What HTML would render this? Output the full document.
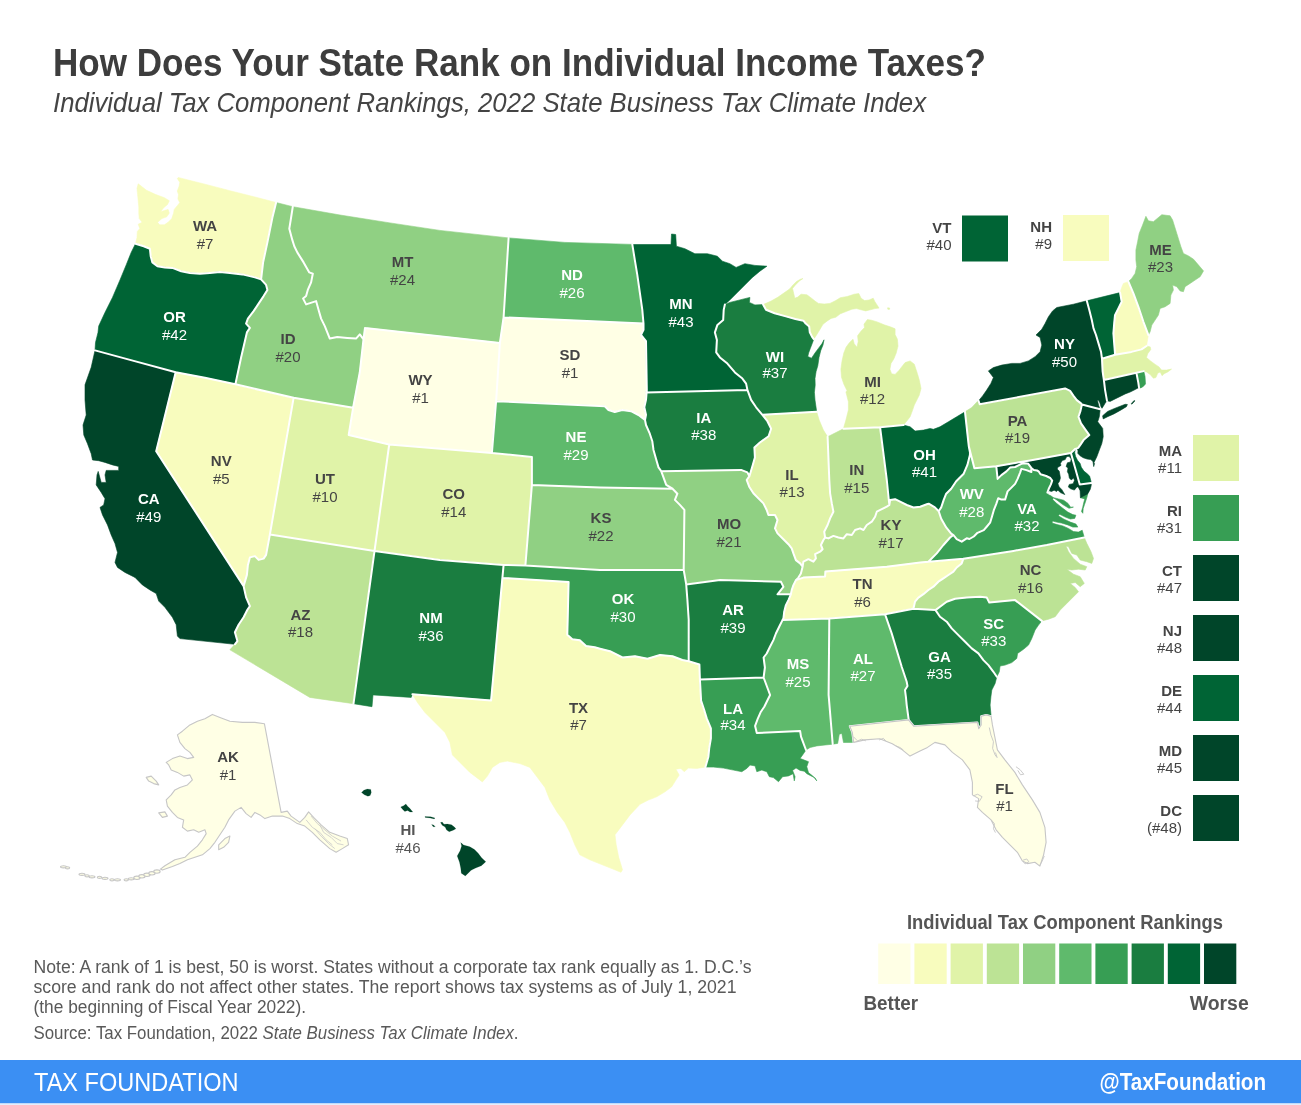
<!DOCTYPE html><html><head><meta charset="utf-8"><title>How Does Your State Rank on Individual Income Taxes?</title>
<style>html,body{margin:0;padding:0;background:#fff}body{width:1301px;height:1105px;overflow:hidden}svg{display:block}text{font-family:"Liberation Sans",sans-serif}.b{font-weight:700}.st{stroke:#fff;stroke-width:1.6;stroke-linejoin:round}.gs{stroke:#c6c6c6;stroke-width:1.1;stroke-linejoin:round}.l{font-size:15px;text-anchor:middle}.r{font-size:15px;text-anchor:end;fill:#444}</style></head><body>
<svg width="1301" height="1105" viewBox="0 0 1301 1105">
<rect width="1301" height="1105" fill="#fff"/>
<text x="53" y="75.5" class="b" font-size="38" fill="#3d3d3d" textLength="933" lengthAdjust="spacingAndGlyphs">How Does Your State Rank on Individual Income Taxes?</text>
<text x="53" y="111.5" font-size="28" font-style="italic" fill="#444" textLength="873" lengthAdjust="spacingAndGlyphs">Individual Tax Component Rankings, 2022 State Business Tax Climate Index</text>
<g id="map">
<path fill="#F8FCBE" stroke="#F8FCBE" stroke-width="0.6" stroke-linejoin="round" d="M135.5,243.7 137,237.4 137.3,231.5 139.8,228.5 138.2,224.2 142.2,222.3 139.2,218.6 138.8,213.1 138.8,206.9 138.2,200.8 137.6,194.6 137,188.5 138.2,183.8 146.5,190.3 155.8,194.6 164.4,197.7 169.3,200.8 167.5,204.5 163.2,208.2 160.7,211.8 164.4,210.6 168.1,209.4 169.3,213.1 166.8,216.8 161.9,218.6 157.6,222.3 159.5,224.8 164.4,224.8 168.1,222.3 171.8,218.6 173.6,213.1 174.2,209.4 177.3,205.7 179.8,202.6 177.9,198.9 178.5,194.6 177.3,190.9 179.2,186 179.8,182.3 177.3,178.6 178.2,177.5 204.9,184.2 229.9,190.7 254.9,197 276.1,202.5 272.4,217.5 267.4,242.4 263.1,262.4 261.1,279.4 254.9,277.4 242.4,274.4 229.9,272.9 219.9,271.9 209.9,272.9 199.9,273.7 189.9,272.9 181.2,271.2 172.4,267.9 164.9,267.4 157.4,266.2 152.4,262.4 150.7,256.2 149.9,248.7 143.7,246.2Z"/>
<path fill="#006435" stroke="#006435" stroke-width="0.6" stroke-linejoin="round" d="M95,350.4 95.5,342.4 98,332.4 98.7,326.1 105,312.4 112.5,297.4 120,279.9 126.2,264.9 131.2,252.4 135.5,243.7 143.7,246.2 149.9,248.7 150.7,256.2 152.4,262.4 157.4,266.2 164.9,267.4 172.4,267.9 181.2,271.2 189.9,272.9 199.9,273.7 209.9,272.9 219.9,271.9 229.9,272.9 242.4,274.4 254.9,277.4 261.1,279.4 266.1,284.9 267.4,289.9 263.6,296.1 258.6,303.6 253.6,311.1 247.9,318.6 246.1,323.6 249.9,327.9 246.9,332.4 241.1,357.4 235.4,384.3 204.9,377.8 175.7,372.3 130,359.9Z"/>
<path fill="#004529" stroke="#004529" stroke-width="0.6" stroke-linejoin="round" d="M95,350.4 130,359.9 175.7,372.3 156.2,451.2 243.6,586.1 246.1,597.4 249.9,606.1 247.4,609.8 243.6,617.3 238.6,624.8 234.9,632.3 237.4,641.1 234.9,644.3 179.9,638.6 177.4,636.1 176.2,624.8 172.4,617.3 164.9,607.3 158.7,601.1 156.2,593.6 149.9,589.9 142.4,584.9 135,577.4 125,572.4 117.5,567.4 115,562.4 117.5,552.4 115,543.6 111.2,534.9 107.5,524.9 102.5,514.9 100,507.4 103.7,504.9 105,498.7 101.2,492.4 96.2,484.9 97,474.9 98.2,471.4 101.2,482.4 106.2,482.4 105,474.9 106.2,470.4 118.7,470.4 118.7,466.4 112.5,464.9 105,462.4 98.7,460.7 92.5,460 91.2,453.7 87.5,443.7 83.8,435 83,425 86.2,415 85,400 85,384.8 91.2,367.3Z"/>
<path fill="#F8FCBE" stroke="#F8FCBE" stroke-width="0.6" stroke-linejoin="round" d="M175.7,372.3 204.9,377.8 235.4,384.3 293.6,397.8 269.9,534.4 266.1,554.9 263.6,558.6 258.6,559.9 254.9,556.1 249.9,557.4 247.9,564.9 246.9,574.9 243.6,586.1 156.2,451.2Z"/>
<path fill="#90D083" stroke="#90D083" stroke-width="0.6" stroke-linejoin="round" d="M276.1,202.5 292.8,206.7 291.1,217.5 289.3,228.7 292.3,239.9 294.3,246.2 297.3,252.4 303.6,262.4 309.3,272.4 312.8,273.7 311.1,282.4 307.8,289.9 306.1,296.1 303.1,298.6 306.1,304.4 312.3,302.4 316.1,301.1 318.6,309.9 321.1,318.6 324.8,326.1 327.3,332.4 329.8,338.6 337.3,336.9 347.3,337.9 356,338.6 359.8,334.4 363.5,339.4 359.8,372.3 353.1,407.8 293.6,397.8 235.4,384.3 241.1,357.4 246.9,332.4 249.9,327.9 246.1,323.6 247.9,318.6 253.6,311.1 258.6,303.6 263.6,296.1 267.4,289.9 266.1,284.9 261.1,279.4 263.1,262.4 267.4,242.4 272.4,217.5Z"/>
<path fill="#90D083" stroke="#90D083" stroke-width="0.6" stroke-linejoin="round" d="M292.8,206.7 340,215 390,222.9 439.9,230.4 508.6,237.9 503.6,317.4 499.9,342.9 365,327.9 363.5,339.4 359.8,334.4 356,338.6 347.3,337.9 337.3,336.9 329.8,338.6 327.3,332.4 324.8,326.1 321.1,318.6 318.6,309.9 316.1,301.1 312.3,302.4 306.1,304.4 303.1,298.6 306.1,296.1 307.8,289.9 311.1,282.4 312.8,273.7 309.3,272.4 303.6,262.4 297.3,252.4 294.3,246.2 292.3,239.9 289.3,228.7 291.1,217.5Z"/>
<path fill="#FFFFE5" stroke="#FFFFE5" stroke-width="0.6" stroke-linejoin="round" d="M365,327.9 499.9,342.9 496.1,401.2 491.9,453 389.2,444.5 348.7,435 353.1,407.8 359.8,372.3 363.5,339.4Z"/>
<path fill="#E0F3A8" stroke="#E0F3A8" stroke-width="0.6" stroke-linejoin="round" d="M293.6,397.8 353.1,407.8 348.7,435 389.2,444.5 374.5,551.1 269.9,534.4Z"/>
<path fill="#BCE395" stroke="#BCE395" stroke-width="0.6" stroke-linejoin="round" d="M269.9,534.4 374.5,551.1 353.5,703.7 309.8,697.4 229.9,649.8 234.9,644.3 237.4,641.1 234.9,632.3 238.6,624.8 243.6,617.3 247.4,609.8 249.9,606.1 246.1,597.4 243.6,586.1 246.9,574.9 247.9,564.9 249.9,557.4 254.9,556.1 258.6,559.9 263.6,558.6 266.1,554.9Z"/>
<path fill="#E0F3A8" stroke="#E0F3A8" stroke-width="0.6" stroke-linejoin="round" d="M389.2,444.5 491.9,453 531.9,457 531.9,484.9 525.4,565.4 503.6,564.9 439.9,559.9 374.5,551.1Z"/>
<path fill="#1A7D40" stroke="#1A7D40" stroke-width="0.6" stroke-linejoin="round" d="M374.5,551.1 439.9,559.9 503.6,564.9 502.4,577.9 491.1,700.4 412.4,694.2 411.2,697.4 373,694.9 372,706.7 353.5,703.7Z"/>
<path fill="#5FBA6C" stroke="#5FBA6C" stroke-width="0.6" stroke-linejoin="round" d="M508.6,237.9 564.8,242.4 632.3,244.4 634.8,259.9 637.3,274.9 639.8,292.4 642.3,309.9 643.5,323.6 503.6,317.4Z"/>
<path fill="#FFFFE5" stroke="#FFFFE5" stroke-width="0.6" stroke-linejoin="round" d="M503.6,317.4 643.5,323.6 643.5,329.9 641,334.9 646,341.1 646.8,389.8 646,399.8 644.3,407.3 646,414.8 645,420 638.5,415 631,411.2 622.3,410 614.8,412 608.5,410 604.8,406.2 496.1,401.2 499.9,342.9Z"/>
<path fill="#5FBA6C" stroke="#5FBA6C" stroke-width="0.6" stroke-linejoin="round" d="M496.1,401.2 604.8,406.2 608.5,410 614.8,412 622.3,410 631,411.2 638.5,415 645,420 646,425 649.8,433.7 652.3,441.2 653.5,450 656,458.7 658.5,467.4 661.2,471.2 666.2,484.9 672.5,488.7 600,487.4 531.9,484.9 531.9,457 491.9,453Z"/>
<path fill="#90D083" stroke="#90D083" stroke-width="0.6" stroke-linejoin="round" d="M531.9,484.9 600,487.4 672.5,488.7 677.4,493.7 674.9,499.9 679.9,504.9 684.4,509.9 683.7,569.9 600,569.9 525.4,565.4Z"/>
<path fill="#379E54" stroke="#379E54" stroke-width="0.6" stroke-linejoin="round" d="M503.6,564.9 525.4,565.4 600,569.9 683.7,569.9 686.2,584.4 687.4,599.9 688.7,619.8 688.7,661.2 682.4,660 672.5,656.2 660,655 647.5,658.7 635,656.2 622.5,657.5 610,651.2 600,648.7 594.8,647.3 586.1,646.1 579.8,640.3 572.3,639.3 567.3,634.8 568.6,581.9 502.4,577.9Z"/>
<path fill="#F8FCBE" stroke="#F8FCBE" stroke-width="0.6" stroke-linejoin="round" d="M502.4,577.9 568.6,581.9 567.3,634.8 572.3,639.3 579.8,640.3 586.1,646.1 594.8,647.3 600,648.7 610,651.2 622.5,657.5 635,656.2 647.5,658.7 660,655 672.5,656.2 682.4,660 688.7,661.2 699.4,664.5 699.9,679.5 701.2,702.4 700.9,700 704.2,710 706.7,718.4 710.9,728.4 710.9,738.4 709.2,748.4 708.4,756.7 705.4,767.1 696.7,768.4 688.4,768.1 684.2,771.7 680.9,768.4 675.9,769.2 679.2,775.1 675.9,780.1 671.7,786.8 665,791.8 656.7,796.8 648.3,800.1 640,804.3 630,814.9 622.5,824.9 615,834.8 616.2,844.8 618.7,857.3 622.5,869.8 621,872.3 614.8,869.8 602.3,864.8 589.8,859.8 579.8,854.8 574.8,844.8 569.8,832.3 564.8,822.4 557.3,812.4 549.8,799.9 544.9,787.4 537.4,777.4 529.9,767.4 519.9,763.6 507.4,761.1 499.9,762.4 492.4,767.4 487.4,776.1 482.4,781.9 469.9,772.4 459.9,762.4 452.4,754.9 449.9,742.4 444.9,732.4 434.9,722.4 424.9,712.4 417.4,702.4 412.4,694.2 491.1,700.4Z"/>
<path fill="#006435" stroke="#006435" stroke-width="0.6" stroke-linejoin="round" d="M633.2,244.5 671,244.5 671.5,234 675.7,234.5 676.4,246.2 684.9,248.7 694.9,253.7 707.4,253.7 717.4,256.2 722.4,261.2 729.9,263.7 736.1,267.4 744.9,263.7 754.9,265.4 766.9,266.2 759.9,271.2 752.4,277.4 744.9,284.9 737.4,292.4 729.9,299.9 724.9,304.4 723.7,309.9 723.2,319.9 717.4,324.9 714.9,332.4 716.9,339.9 716.2,352.4 719.9,357.4 727.4,363.6 734.9,372.4 742.4,378.6 746.1,383.6 747.4,389.9 646.2,392.4 646.8,389.8 646,341.1 641,334.9 643.5,329.9 643.5,323.6 642.3,309.9 639.8,292.4 637.3,274.9 634.8,259.9 632.3,244.4Z"/>
<path fill="#1A7D40" stroke="#1A7D40" stroke-width="0.6" stroke-linejoin="round" d="M646.2,392.4 747.4,389.9 751.1,399.9 756.1,407.3 762.4,414.8 767.4,421.2 771.1,428.7 768.6,436.2 759.9,442.5 754.4,447.5 754.9,457.5 752.4,466.2 749.4,476.2 747.4,472.4 741.1,469.9 661.2,471.2 658.5,467.4 656,458.7 653.5,450 652.3,441.2 649.8,433.7 646,425 645,420 646,414.8 644.3,407.3 646,399.8 646.8,389.8Z"/>
<path fill="#90D083" stroke="#90D083" stroke-width="0.6" stroke-linejoin="round" d="M661.2,471.2 741.1,469.9 747.4,472.4 749.4,476.2 746.7,480 749.2,486.7 753.4,493.3 758.4,498.4 763.4,503.4 766.7,510 768.4,515 775,515 777.5,520 775,528.4 777.5,533.4 783.4,539.2 788.4,544.2 791.7,548.4 793.4,553.4 795.9,560.1 800.1,563.4 802.6,566.7 800.9,573.4 798.4,577.6 795.9,580.1 793.4,585.1 791.7,590.1 790.9,594.3 777.5,594.3 783.4,586.8 780.9,581.8 720,580.1 686.2,584.4 683.7,569.9 684.4,509.9 679.9,504.9 674.9,499.9 677.4,493.7 672.5,488.7 666.2,484.9Z"/>
<path fill="#1A7D40" stroke="#1A7D40" stroke-width="0.6" stroke-linejoin="round" d="M686.2,584.4 720,580.1 780.9,581.8 783.4,586.8 777.5,594.3 790.9,594.3 788.4,600.1 785.9,605.1 784.2,611.8 783.4,618.5 782.5,620.1 779.2,626.8 775.9,633.5 773.4,640.1 770,646.8 766.7,653.5 763.6,657.5 764.9,667.5 763.6,677.5 699.9,679.5 699.4,664.5 688.7,661.2 688.7,619.8 687.4,599.9Z"/>
<path fill="#379E54" stroke="#379E54" stroke-width="0.6" stroke-linejoin="round" d="M699.9,679.5 763.6,677.5 770.1,695 767.6,700 764.3,706.7 760.9,711.7 757.6,719.2 755.1,725.9 756.8,733 800.1,730.9 801,736.7 803.5,743.4 806,750 802.6,755 800.1,758.4 804.3,760.1 808.5,761.7 806.8,766.7 808.5,772.6 813.5,776.7 816.8,780.9 815.1,777.9 810.1,775.4 806.8,773.7 804.3,771.2 800.1,770.4 796,767.9 792.6,770.4 795.1,776.7 794.3,780.9 793.1,773.7 788.5,775.9 782.6,776.7 778.5,781.7 773.4,777.6 769.3,776.7 766.8,771.7 761.8,770.1 756.8,771.7 755.1,765.9 750.1,765.1 746.8,768.4 741.8,771.7 733.4,770.1 723.4,768.1 713.4,767.1 705.4,767.1 708.4,756.7 709.2,748.4 710.9,738.4 710.9,728.4 706.7,718.4 704.2,710 700.9,700 701.2,702.4Z"/>
<path fill="#1A7D40" stroke="#1A7D40" stroke-width="0.6" stroke-linejoin="round" d="M724.9,304.4 729.9,302.4 739.9,299.9 749.9,297.4 749.4,302.4 754.9,304.9 763.1,304.6 766,309.8 774.6,313.2 785,316.1 795.4,319 803.4,320.7 805.7,323.6 809.2,326.5 809.8,332.3 812.1,336.9 813.8,339.2 812.1,343.8 810.3,348.4 808.6,353 807.8,356.5 811.5,358.2 815,353 818.4,348.4 821.9,343.8 824,339.8 823,344.9 820.7,350.7 819,357.6 817.8,365.7 816.1,371.5 815,378.4 815.2,385.3 814.4,392.2 815,400.1 816.7,411.8 762.4,414.8 756.1,407.3 751.1,399.9 747.4,389.9 746.1,383.6 742.4,378.6 734.9,372.4 727.4,363.6 719.9,357.4 716.2,352.4 716.9,339.9 714.9,332.4 717.4,324.9 723.2,319.9 723.7,309.9Z"/>
<path fill="#E0F3A8" stroke="#E0F3A8" stroke-width="0.6" stroke-linejoin="round" d="M762.4,414.8 816.7,411.8 819.2,420.1 823.4,430.1 827.6,436.8 828.6,462.4 829.3,480 830.1,493.3 831.8,503.4 833.4,511.7 830.1,518.4 827.6,525 824.2,531.7 825.1,537.5 823.4,540 820.9,545 822.6,549.2 820.1,551.7 815.1,554.2 815.9,558.4 813.4,561.7 808.4,559.2 803.4,561.7 802.6,566.7 800.1,563.4 795.9,560.1 793.4,553.4 791.7,548.4 788.4,544.2 783.4,539.2 777.5,533.4 775,528.4 777.5,520 775,515 768.4,515 766.7,510 763.4,503.4 758.4,498.4 753.4,493.3 749.2,486.7 746.7,480 749.4,476.2 752.4,466.2 754.9,457.5 754.4,447.5 759.9,442.5 768.6,436.2 771.1,428.7 767.4,421.2Z"/>
<path fill="#BCE395" stroke="#BCE395" stroke-width="0.6" stroke-linejoin="round" d="M827.6,436.8 843.4,428.8 880.1,427.3 886.8,480 889.3,505 886.8,506.7 881.8,509.2 876.8,511.7 875.1,516.7 871.8,521.7 866.8,525 863.5,530 860.1,528.4 855.1,530 851.8,535 846.8,534.2 843.4,538.4 838.4,537.5 833.4,535.9 828.4,538.4 825.1,537.5 824.2,531.7 827.6,525 830.1,518.4 833.4,511.7 831.8,503.4 830.1,493.3 829.3,480 828.6,462.4Z"/>
<path fill="#E0F3A8" stroke="#E0F3A8" stroke-width="0.6" stroke-linejoin="round" d="M887.6,307.8 889.7,308.1 889.4,309.4 887.8,309.2ZM763.1,304.6 766,309.8 774.6,313.2 785,316.1 795.4,319 803.4,320.7 805.7,323.6 809.2,326.5 809.8,332.3 812.1,336.9 813.8,339.2 816.1,335.7 819.6,330 823,324.2 827.6,320.7 831.1,318.4 835.7,317.3 840.3,313.8 846.1,311.5 851.9,309.2 856.5,308.6 861.1,309.8 865.7,310.9 870.3,309.8 874.9,308.6 879,308.1 877.2,305.2 874.9,301.7 873.2,298.2 869.1,300 864.5,300.6 861.1,298.2 858.8,293.6 854.2,294.2 847.2,296.5 840.3,297.7 835.7,300.6 830,303.4 824.2,304 818.4,303.4 815,301.1 811.5,298.2 806.9,294.8 801.1,294.2 797.7,297.1 794.8,298.2 793.6,293.1 792.5,288.4 795.4,285 799.4,280.9 802.9,278.6 800.5,279.2 796.5,281.5 793,285 789.6,289 783.8,293.1 778.1,297.1 771.1,301.1ZM843.4,428.8 845.9,420.1 848.4,410.1 848.4,401.8 845.9,391.8 847.2,391.1 843.8,384.1 841.5,377.2 840.9,369.2 842,361.1 843.8,353 846.1,347.2 849.5,342.6 853,339.2 854.2,343.8 857,347.2 858.2,341.5 857.6,335.7 861.1,331.1 864.5,327.6 864,324.2 867.4,319.6 871.5,320.2 877.2,321.9 884.1,324.8 891,327.1 895.1,328.8 895.1,334.6 897.4,339.2 898,346.1 896.2,353 893.9,358.8 891,363.4 889.9,369.2 891.6,373.8 895.1,374.4 899.1,370.3 902.6,365.7 905.1,362.6 910.1,360.9 914.3,364.2 916.8,371.8 919.3,380.1 921,388.4 919.3,395.1 916.8,400.1 914.3,405.1 912.6,410.1 910.1,416.8 906.8,421 903.5,425.1 880.1,427.3Z"/>
<path fill="#006435" stroke="#006435" stroke-width="0.6" stroke-linejoin="round" d="M903.5,425.1 910.1,426.8 915.1,431 923.5,430.1 930.1,428.5 933.4,429.3 940,426.8 948.4,421.8 956.7,416.8 965,411.8 968.8,446.3 970,452.6 969.9,455 967.4,464.9 963.7,473.7 956.2,481.2 951.2,488.7 946.2,493.7 943.7,499.9 941.2,507.4 938.7,511.2 934.9,507.4 928.7,503.7 926.8,504.2 920.2,506.7 913.5,507.5 906.8,505 900.1,501.7 895.1,499.2 890.1,500 889.3,505 886.8,480 880.1,427.3Z"/>
<path fill="#BCE395" stroke="#BCE395" stroke-width="0.6" stroke-linejoin="round" d="M802.6,566.7 803.4,561.7 808.4,559.2 813.4,561.7 815.9,558.4 815.1,554.2 820.1,551.7 822.6,549.2 820.9,545 823.4,540 825.1,537.5 828.4,538.4 833.4,535.9 838.4,537.5 843.4,538.4 846.8,534.2 851.8,535 855.1,530 860.1,528.4 863.5,530 866.8,525 871.8,521.7 875.1,516.7 876.8,511.7 881.8,509.2 886.8,506.7 889.3,505 890.1,500 895.1,499.2 900.1,501.7 906.8,505 913.5,507.5 920.2,506.7 926.8,504.2 928.7,503.7 934.9,507.4 938.7,511.2 941.2,518.7 946.2,527.4 951.2,533.6 953.4,535 950.1,537.5 943.4,545 936.7,553.4 928.4,561.7 920.2,562.6 886.8,566.7 825.4,571.4 825.1,576.4 803.4,577.6 795.9,580.1 798.4,577.6 800.9,573.4Z"/>
<path fill="#F8FCBE" stroke="#F8FCBE" stroke-width="0.6" stroke-linejoin="round" d="M795.9,580.1 803.4,577.6 825.1,576.4 825.4,571.4 886.8,566.7 920.2,562.6 928.4,561.7 963.4,558.7 961.7,563.4 956.7,567.5 953.4,571.7 948.4,575 943.4,578.4 938.4,581.7 933.4,586.7 928.4,590 923.4,594.2 918.4,597.6 915,601.7 913.4,608.7 885.1,614.3 829.3,618.5 782.5,620.1 783.4,618.5 784.2,611.8 785.9,605.1 788.4,600.1 790.9,594.3 791.7,590.1 793.4,585.1Z"/>
<path fill="#5FBA6C" stroke="#5FBA6C" stroke-width="0.6" stroke-linejoin="round" d="M782.5,620.1 829.3,618.5 828.6,694.9 832.7,744.2 825.1,745 816.8,745.9 810.1,747.5 806,750 803.5,743.4 801,736.7 800.1,730.9 756.8,733 755.1,725.9 757.6,719.2 760.9,711.7 764.3,706.7 767.6,700 770.1,695 763.6,677.5 764.9,667.5 763.6,657.5 766.7,653.5 770,646.8 773.4,640.1 775.9,633.5 779.2,626.8Z"/>
<path fill="#5FBA6C" stroke="#5FBA6C" stroke-width="0.6" stroke-linejoin="round" d="M829.3,618.5 885.1,614.3 891.7,633.4 896.7,650.1 901.7,666.8 906.7,681.8 907.5,686 905,690.1 905.9,696.8 906.7,705.1 908.7,719.9 913.7,726.2 908.5,719.9 849.8,726.2 852.3,732.4 853.6,742.4 843.5,742.5 841.8,733.4 839.3,734.2 837.7,743.4 832.7,744.2 828.6,694.9Z"/>
<path fill="#1A7D40" stroke="#1A7D40" stroke-width="0.6" stroke-linejoin="round" d="M885.1,614.3 913.4,608.7 935.5,610.1 940,616.7 946.7,621.7 951.7,628.4 958.4,635.1 965.1,641.8 971.7,648.4 978.4,653.4 983.4,660.1 988.4,665.1 993.4,671.8 996.8,676.8 995.1,683.5 991.8,690.1 990.9,696.8 990.1,705.1 991.1,716.2 986.2,714.9 981.2,716.2 981.2,724.9 978.7,728.7 977.4,722.4 913.7,726.2 908.7,719.9 906.7,705.1 905.9,696.8 905,690.1 907.5,686 906.7,681.8 901.7,666.8 896.7,650.1 891.7,633.4Z"/>
<path fill="#379E54" stroke="#379E54" stroke-width="0.6" stroke-linejoin="round" d="M935.5,610.1 940,606.7 946.7,601.7 955.1,598.7 966.7,597.6 980.1,596.7 986.8,597.6 989.3,602.6 1015.1,600.1 1041.8,620.9 1038.5,625.1 1035.1,630.1 1031.8,638.4 1028.5,645.1 1023.5,649.3 1017.6,653.4 1016.8,658.4 1011.8,662.6 1005.1,665.1 1000.1,666 999.3,671.8 996.8,676.8 993.4,671.8 988.4,665.1 983.4,660.1 978.4,653.4 971.7,648.4 965.1,641.8 958.4,635.1 951.7,628.4 946.7,621.7 940,616.7Z"/>
<path fill="#BCE395" stroke="#BCE395" stroke-width="0.6" stroke-linejoin="round" d="M963.4,558.7 1013.4,550.9 1046.8,545 1084.3,537.5 1086.8,543.3 1091,551.7 1093.5,558.4 1091.8,563.4 1086.8,561.7 1080.2,560 1076.8,555 1071.8,553.4 1068.5,546.7 1066,545.9 1068.5,551.7 1073.5,558.4 1080.2,564.2 1086.8,566.7 1085.2,570 1078.5,569.2 1071.8,570 1066.8,569.2 1073.5,574.2 1080.2,576.7 1084.3,583.4 1080.2,586.7 1075.2,582.5 1070.2,583.4 1075.2,587.5 1078.5,591.7 1073.5,596.7 1066.8,603.4 1060.2,610.1 1055.2,616.7 1048.5,619.2 1041.8,620.9 1015.1,600.1 989.3,602.6 986.8,597.6 980.1,596.7 966.7,597.6 955.1,598.7 946.7,601.7 940,606.7 935.5,610.1 913.4,608.7 915,601.7 918.4,597.6 923.4,594.2 928.4,590 933.4,586.7 938.4,581.7 943.4,578.4 948.4,575 953.4,571.7 956.7,567.5 961.7,563.4Z"/>
<path fill="#379E54" stroke="#379E54" stroke-width="0.6" stroke-linejoin="round" d="M1084.3,537.5 1046.8,545 1013.4,550.9 963.4,558.7 928.4,561.7 936.7,553.4 943.4,545 950.1,537.5 953.4,535 956.7,539.2 961.7,541.7 966.7,538.3 969.4,539 973.8,536.5 977.5,532.8 983.8,530.2 986.9,526.5 990.1,522.7 992,516.5 993.8,510.2 996.3,503.9 998.2,498.3 1001.4,499.6 1005.1,499.6 1007.6,491.4 1011.4,487.6 1015.1,483.9 1017.6,478.9 1020.1,472.6 1021.4,468.9 1026.4,470.1 1031.4,472 1031.3,467.9 1033.8,470.1 1037,470.4 1038.9,471.7 1040.5,474.2 1046.2,476 1050.3,478 1052.2,480.6 1050.9,484.4 1049,488.2 1047.4,492.6 1048.1,494.6 1050.9,495.8 1053.5,497.7 1058.5,498.9 1063.6,500.2 1068,503.4 1070.6,507.2 1073.4,507.1 1069,508.3 1062.8,504.6 1057.1,500.2 1053.4,497.7 1052.7,499.6 1056.5,503.3 1062.1,507.7 1067.8,512.1 1072.8,514.6 1075.9,515.2 1074.7,518.4 1070.3,519 1065.3,517.1 1059.6,514.2 1058.4,515.8 1064,519.2 1070.3,522.1 1075.9,524 1077.8,527.1 1072.8,527.1 1067.8,524.9 1061.5,523 1056.5,522.1 1052.5,520.9 1052.1,523 1057.1,524.6 1062.8,525.9 1068.4,528.4 1073.4,531.5 1078.4,532.1 1082.2,530.2ZM1080.4,497.7 1083.9,495.9 1087.7,493.9 1087,497 1085.8,500.8 1084.5,504.6 1083.2,508.4 1082.8,513.3 1081.5,511.4 1082.6,507.7 1083.9,502.1 1084.8,498.9Z"/>
<path fill="#5FBA6C" stroke="#5FBA6C" stroke-width="0.6" stroke-linejoin="round" d="M968.8,446.3 974.4,468.2 996.3,466.3 997.6,478.9 1001.4,475.1 1006.4,471.4 1010.1,467.6 1015.1,467 1018.9,465.1 1021.4,463.8 1025.2,463.2 1028.3,463.8 1031.3,467.9 1031.4,472 1026.4,470.1 1021.4,468.9 1020.1,472.6 1017.6,478.9 1015.1,483.9 1011.4,487.6 1007.6,491.4 1005.1,499.6 1001.4,499.6 998.2,498.3 996.3,503.9 993.8,510.2 992,516.5 990.1,522.7 986.9,526.5 983.8,530.2 977.5,532.8 973.8,536.5 969.4,539 966.7,538.3 961.7,541.7 956.7,539.2 953.4,535 951.2,533.6 946.2,527.4 941.2,518.7 938.7,511.2 941.2,507.4 943.7,499.9 946.2,493.7 951.2,488.7 956.2,481.2 963.7,473.7 967.4,464.9 969.9,455 970,452.6Z"/>
<path fill="#004529" stroke="#004529" stroke-width="0.6" stroke-linejoin="round" d="M996.3,466.3 1030,460.4 1070.9,453 1079.8,484.4 1091.3,483.1 1091.2,485.6 1090.2,489.4 1087.7,493.9 1083.9,495.9 1080.4,497.7 1080.1,490.7 1078.2,486.9 1076.9,486.9 1074.4,490.1 1070.6,488.8 1068.3,486.9 1069.3,484.4 1073.1,483.7 1074.4,480.6 1073.7,478 1071.2,479.9 1069.3,478 1068.7,474.2 1067.4,471.7 1068,467.9 1066.1,466.6 1067.4,462.8 1070.6,461.9 1071.2,459 1069.6,456.8 1068,456.2 1066.4,457.1 1065.2,459.6 1062.3,460.6 1060.4,463.4 1061,465.4 1057.9,467.2 1057.2,469.1 1059.2,471.1 1059.8,474.2 1060.4,478 1059.5,481.2 1057.9,483.7 1059.2,486.9 1061.7,489.4 1064.8,494.6 1060.4,492.6 1057.9,490.2 1056.6,491.5 1054.1,490.2 1051.5,491.5 1049,490.7 1047.4,492.6 1049,488.2 1050.9,484.4 1052.2,480.6 1050.3,478 1046.2,476 1040.5,474.2 1038.9,471.7 1037,470.4 1033.8,470.1 1031.3,467.9 1028.3,463.8 1025.2,463.2 1021.4,463.8 1018.9,465.1 1015.1,467 1010.1,467.6 1006.4,471.4 1001.4,475.1 997.6,478.9Z"/>
<path fill="#006435" stroke="#006435" stroke-width="0.6" stroke-linejoin="round" d="M1070.9,453 1075.3,448.7 1074.7,452.7 1075.6,456.5 1077.5,460.3 1080.1,463.4 1081.3,467.2 1083.9,471.1 1087,473.6 1089.6,476.1 1090.8,480.6 1091.3,483.1 1079.8,484.4Z"/>
<path fill="#BCE395" stroke="#BCE395" stroke-width="0.6" stroke-linejoin="round" d="M965,411.8 971.7,407.6 978.4,400.4 979.7,404.3 1065.1,388.4 1070.1,390.9 1073.5,395.9 1076.8,400.1 1081,403.4 1081.9,404.5 1080.5,410.9 1078.5,416.8 1081,423.4 1085.2,429.3 1089.3,435.1 1083.5,440.1 1080.7,444.4 1078.2,447.9 1076.9,448.4 1075.3,448.7 1070.9,453 1030,460.4 996.3,466.3 974.4,468.2 968.8,446.3Z"/>
<path fill="#004529" stroke="#004529" stroke-width="0.6" stroke-linejoin="round" d="M1081.9,404.5 1100.2,409.3 1099.3,416.8 1097.7,421.8 1100.2,425.1 1102.7,428.4 1103.2,436.8 1101.8,443.5 1099.3,450.1 1096.8,456.8 1093.5,463.5 1094.6,463.4 1093.7,466.6 1093,461.6 1090.8,459.6 1087,459 1083.2,457.7 1080.1,455.8 1077.8,453.3 1078,450.8 1076.9,448.4 1078.2,447.9 1080.7,444.4 1083.5,440.1 1089.3,435.1 1085.2,429.3 1081,423.4 1078.5,416.8 1080.5,410.9Z"/>
<path fill="#004529" stroke="#004529" stroke-width="0.6" stroke-linejoin="round" d="M978.4,400.4 979.2,400.1 982.6,395.9 986.7,390.1 990.9,383.4 993.4,377.6 990.9,374.2 988.4,370.9 993.4,367.6 1001.8,365.1 1011.8,363.4 1020.1,363.4 1028.4,360.9 1035.1,356.7 1040.1,351.7 1041.8,345.1 1040.1,337.5 1036,335 1041.8,329.2 1045.1,323.4 1048.5,316.7 1052.6,310.9 1056.8,307.5 1073.5,304.2 1086.8,300.8 1089.3,310 1091.8,320 1093.5,328.4 1096,335 1098.5,343.4 1101,351.7 1102,358.8 1102.6,371.3 1103.9,380.1 1105.1,390.1 1107,400.8 1105.1,403.3 1103.2,406.4 1102,408.3 1101.1,407 1099.8,402.7 1098.3,399.9 1097.5,400.6 1098.6,405.2 1099.8,408.7 1100.2,409.3 1081.9,404.5 1081,403.4 1076.8,400.1 1073.5,395.9 1070.1,390.9 1065.1,388.4 979.7,404.3ZM1102.6,415.8 1107.6,411.4 1113.9,408.7 1120.2,406.2 1125.2,404.3 1127.4,404.5 1126.4,406.7 1120.2,410.4 1113.9,413.9 1107.6,416.7 1103.2,418.9ZM1131.2,403.7 1134.2,400.4 1134.9,400.9 1131.9,404.2Z"/>
<path fill="#006435" stroke="#006435" stroke-width="0.6" stroke-linejoin="round" d="M1086.8,300.8 1120.1,292.6 1121.7,301.8 1118.4,308.4 1115,315.1 1114.2,323.4 1113.4,333.4 1114.2,343.4 1115.1,354.8 1102,358.8 1101,351.7 1098.5,343.4 1096,335 1093.5,328.4 1091.8,320 1089.3,310Z"/>
<path fill="#F8FCBE" stroke="#F8FCBE" stroke-width="0.6" stroke-linejoin="round" d="M1120.1,292.6 1121.7,287.6 1123.4,283.4 1128.4,281.7 1133.4,293.4 1138.4,306.8 1143.4,321.8 1148.4,335.1 1146.5,346 1141.5,349.4 1131.4,351.9 1115.1,354.8 1114.2,343.4 1113.4,333.4 1114.2,323.4 1115,315.1 1118.4,308.4 1121.7,301.8Z"/>
<path fill="#90D083" stroke="#90D083" stroke-width="0.6" stroke-linejoin="round" d="M1128.4,281.7 1131.7,278.4 1135.1,273.4 1136.7,266.7 1135.9,260.1 1135.9,250 1137.6,241.7 1139.2,233.4 1142.6,225 1145.9,216.3 1148.4,220.8 1153.4,221.7 1161.8,214.7 1170.1,215.8 1172.6,220 1176.8,233.4 1180.9,246.7 1183.4,253.4 1188.5,255.9 1193.5,259.2 1198.5,265.1 1203.5,270.9 1200.1,276.7 1195.1,280.1 1190.1,283.4 1185.1,286.7 1183.4,291.7 1180.1,290.9 1176.8,286.7 1172.6,285.1 1173.4,290.1 1170.9,295.1 1170.1,303.4 1165.1,306.8 1160.1,308.4 1158.4,315.1 1155.1,320.1 1151.8,325.1 1150.1,331.8 1148.4,335.1 1143.4,321.8 1138.4,306.8 1133.4,293.4Z"/>
<path fill="#E0F3A8" stroke="#E0F3A8" stroke-width="0.6" stroke-linejoin="round" d="M1102,358.8 1115.1,354.8 1131.4,351.9 1141.5,349.4 1146.5,346 1150.2,346.9 1150.8,349.4 1147.7,353.8 1146.5,357.5 1150.2,360.7 1155.2,364.4 1159,366.9 1161.5,370.1 1166.5,370.1 1171.5,369.1 1167.8,371.9 1164,373.8 1162.1,375.7 1160.2,371.9 1157.7,373.2 1155.9,377.6 1153.4,378.2 1150.2,374.5 1146.5,371.9 1143.7,371.1 1136.4,372.8 1103.9,380.1 1102.6,371.3Z"/>
<path fill="#379E54" stroke="#379E54" stroke-width="0.6" stroke-linejoin="round" d="M1136.4,372.8 1143.7,371.1 1145,376.3 1145.5,383.9 1143.3,386.4 1140.8,387.9 1139,387.4 1138.3,382.6Z"/>
<path fill="#004529" stroke="#004529" stroke-width="0.6" stroke-linejoin="round" d="M1103.9,380.1 1136.4,372.8 1138.3,382.6 1139,387.4 1135.2,389.5 1130.2,392 1125.2,393.9 1120.2,396.4 1115.1,398.9 1110.1,401.4 1107,400.8 1105.1,390.1Z"/>
<path fill="#004529" stroke="#004529" stroke-width="0.15" stroke-linejoin="round" d="M361.5,792.5 363.8,790.2 367.3,789 370.8,789.4 371.3,792.5 370.2,795.4 367.9,796.3 364.4,794.8ZM400.7,806.9 403.6,805.7 405.9,804 407.6,806.3 410,808.6 412.8,812.1 410,812.1 407.6,810.4 404.8,811.5 402.5,809.2ZM424.9,816.5 430.7,816.8 435,818.1 434.2,818.9 430.1,818 425.2,817.4ZM431.6,824.5 433.6,825.1 435.3,826.8 433.2,826.7ZM440.5,822.5 442.2,822.1 444,824.2 447.4,824 451.5,824.8 454.4,827.1 455.9,828.8 453.2,830.2 449.2,831.7 446.6,830 445.1,827.1 442.2,825.3ZM460.7,842.6 463.6,845 469.9,846.7 474.5,849.6 478,853 481.4,857.6 485.8,861.7 481.4,865.7 475.7,868 471.1,870.3 467.6,873.8 465.3,875.9 461.3,873.2 460.7,868 459.5,862.2 457.2,855.9 460.1,850.7 461.6,846.1Z"/>
<path fill="none" stroke="#fff" stroke-width="2" stroke-linejoin="round" stroke-linecap="round" d="M276.1,202.5 272.4,217.5 267.4,242.4 263.1,262.4 261.1,279.4M261.1,279.4 254.9,277.4 242.4,274.4 229.9,272.9 219.9,271.9 209.9,272.9 199.9,273.7 189.9,272.9 181.2,271.2 172.4,267.9 164.9,267.4 157.4,266.2 152.4,262.4 150.7,256.2 149.9,248.7 143.7,246.2 135.5,243.7M261.1,279.4 266.1,284.9 267.4,289.9 263.6,296.1 258.6,303.6 253.6,311.1 247.9,318.6 246.1,323.6 249.9,327.9 246.9,332.4 241.1,357.4 235.4,384.3M175.7,372.3 204.9,377.8 235.4,384.3M95,350.4 130,359.9 175.7,372.3M175.7,372.3 156.2,451.2 243.6,586.1M243.6,586.1 246.1,597.4 249.9,606.1 247.4,609.8 243.6,617.3 238.6,624.8 234.9,632.3 237.4,641.1 234.9,644.3M293.6,397.8 235.4,384.3M293.6,397.8 269.9,534.4M269.9,534.4 266.1,554.9 263.6,558.6 258.6,559.9 254.9,556.1 249.9,557.4 247.9,564.9 246.9,574.9 243.6,586.1M292.8,206.7 291.1,217.5 289.3,228.7 292.3,239.9 294.3,246.2 297.3,252.4 303.6,262.4 309.3,272.4 312.8,273.7 311.1,282.4 307.8,289.9 306.1,296.1 303.1,298.6 306.1,304.4 312.3,302.4 316.1,301.1 318.6,309.9 321.1,318.6 324.8,326.1 327.3,332.4 329.8,338.6 337.3,336.9 347.3,337.9 356,338.6 359.8,334.4 363.5,339.4M363.5,339.4 359.8,372.3 353.1,407.8M353.1,407.8 293.6,397.8M508.6,237.9 503.6,317.4M503.6,317.4 499.9,342.9M499.9,342.9 365,327.9M365,327.9 363.5,339.4M496.1,401.2 499.9,342.9M496.1,401.2 491.9,453M491.9,453 389.2,444.5M389.2,444.5 348.7,435M348.7,435 353.1,407.8M389.2,444.5 374.5,551.1M269.9,534.4 374.5,551.1M374.5,551.1 353.5,703.7M491.9,453 531.9,457M531.9,457 531.9,484.9M531.9,484.9 525.4,565.4M503.6,564.9 525.4,565.4M374.5,551.1 439.9,559.9 503.6,564.9M502.4,577.9 503.6,564.9M491.1,700.4 502.4,577.9M412.4,694.2 491.1,700.4M632.3,244.4 634.8,259.9 637.3,274.9 639.8,292.4 642.3,309.9 643.5,323.6M643.5,323.6 503.6,317.4M643.5,323.6 643.5,329.9 641,334.9 646,341.1 646.8,389.8M646.8,389.8 646,399.8 644.3,407.3 646,414.8 645,420M645,420 638.5,415 631,411.2 622.3,410 614.8,412 608.5,410 604.8,406.2 496.1,401.2M645,420 646,425 649.8,433.7 652.3,441.2 653.5,450 656,458.7 658.5,467.4 661.2,471.2M661.2,471.2 666.2,484.9 672.5,488.7M531.9,484.9 600,487.4 672.5,488.7M672.5,488.7 677.4,493.7 674.9,499.9 679.9,504.9 684.4,509.9 683.7,569.9M525.4,565.4 600,569.9 683.7,569.9M683.7,569.9 686.2,584.4M686.2,584.4 687.4,599.9 688.7,619.8 688.7,661.2M502.4,577.9 568.6,581.9 567.3,634.8 572.3,639.3 579.8,640.3 586.1,646.1 594.8,647.3 600,648.7 610,651.2 622.5,657.5 635,656.2 647.5,658.7 660,655 672.5,656.2 682.4,660 688.7,661.2M688.7,661.2 699.4,664.5 699.9,679.5M699.9,679.5 701.2,702.4 700.9,700 704.2,710 706.7,718.4 710.9,728.4 710.9,738.4 709.2,748.4 708.4,756.7 705.4,767.1M724.9,304.4 723.7,309.9 723.2,319.9 717.4,324.9 714.9,332.4 716.9,339.9 716.2,352.4 719.9,357.4 727.4,363.6 734.9,372.4 742.4,378.6 746.1,383.6 747.4,389.9M747.4,389.9 646.2,392.4M646.2,392.4 646.8,389.8M747.4,389.9 751.1,399.9 756.1,407.3 762.4,414.8M762.4,414.8 767.4,421.2 771.1,428.7 768.6,436.2 759.9,442.5 754.4,447.5 754.9,457.5 752.4,466.2 749.4,476.2M661.2,471.2 741.1,469.9 747.4,472.4 749.4,476.2M749.4,476.2 746.7,480 749.2,486.7 753.4,493.3 758.4,498.4 763.4,503.4 766.7,510 768.4,515 775,515 777.5,520 775,528.4 777.5,533.4 783.4,539.2 788.4,544.2 791.7,548.4 793.4,553.4 795.9,560.1 800.1,563.4 802.6,566.7M795.9,580.1 798.4,577.6 800.9,573.4 802.6,566.7M790.9,594.3 791.7,590.1 793.4,585.1 795.9,580.1M780.9,581.8 783.4,586.8 777.5,594.3 790.9,594.3M686.2,584.4 720,580.1 780.9,581.8M790.9,594.3 788.4,600.1 785.9,605.1 784.2,611.8 783.4,618.5 782.5,620.1M782.5,620.1 779.2,626.8 775.9,633.5 773.4,640.1 770,646.8 766.7,653.5 763.6,657.5 764.9,667.5 763.6,677.5M699.9,679.5 763.6,677.5M763.6,677.5 770.1,695 767.6,700 764.3,706.7 760.9,711.7 757.6,719.2 755.1,725.9 756.8,733 800.1,730.9 801,736.7 803.5,743.4 806,750M763.1,304.6 766,309.8 774.6,313.2 785,316.1 795.4,319 803.4,320.7 805.7,323.6 809.2,326.5 809.8,332.3 812.1,336.9 813.8,339.2M816.7,411.8 762.4,414.8M825.1,537.5 824.2,531.7 827.6,525 830.1,518.4 833.4,511.7 831.8,503.4 830.1,493.3 829.3,480 828.6,462.4 827.6,436.8M802.6,566.7 803.4,561.7 808.4,559.2 813.4,561.7 815.9,558.4 815.1,554.2 820.1,551.7 822.6,549.2 820.9,545 823.4,540 825.1,537.5M843.4,428.8 880.1,427.3M889.3,505 886.8,480 880.1,427.3M825.1,537.5 828.4,538.4 833.4,535.9 838.4,537.5 843.4,538.4 846.8,534.2 851.8,535 855.1,530 860.1,528.4 863.5,530 866.8,525 871.8,521.7 875.1,516.7 876.8,511.7 881.8,509.2 886.8,506.7 889.3,505M880.1,427.3 903.5,425.1M968.8,446.3 965,411.8M938.7,511.2 941.2,507.4 943.7,499.9 946.2,493.7 951.2,488.7 956.2,481.2 963.7,473.7 967.4,464.9 969.9,455 970,452.6 968.8,446.3M889.3,505 890.1,500 895.1,499.2 900.1,501.7 906.8,505 913.5,507.5 920.2,506.7 926.8,504.2 928.7,503.7 934.9,507.4 938.7,511.2M938.7,511.2 941.2,518.7 946.2,527.4 951.2,533.6 953.4,535M928.4,561.7 936.7,553.4 943.4,545 950.1,537.5 953.4,535M795.9,580.1 803.4,577.6 825.1,576.4 825.4,571.4 886.8,566.7 920.2,562.6 928.4,561.7M928.4,561.7 963.4,558.7M963.4,558.7 961.7,563.4 956.7,567.5 953.4,571.7 948.4,575 943.4,578.4 938.4,581.7 933.4,586.7 928.4,590 923.4,594.2 918.4,597.6 915,601.7 913.4,608.7M885.1,614.3 913.4,608.7M829.3,618.5 885.1,614.3M782.5,620.1 829.3,618.5M829.3,618.5 828.6,694.9 832.7,744.2M885.1,614.3 891.7,633.4 896.7,650.1 901.7,666.8 906.7,681.8 907.5,686 905,690.1 905.9,696.8 906.7,705.1 908.7,719.9 913.7,726.2M853.6,742.4 852.3,732.4 849.8,726.2 908.5,719.9M913.4,608.7 935.5,610.1M935.5,610.1 940,616.7 946.7,621.7 951.7,628.4 958.4,635.1 965.1,641.8 971.7,648.4 978.4,653.4 983.4,660.1 988.4,665.1 993.4,671.8 996.8,676.8M913.7,726.2 977.4,722.4 978.7,728.7 981.2,724.9 981.2,716.2 986.2,714.9 991.1,716.2M935.5,610.1 940,606.7 946.7,601.7 955.1,598.7 966.7,597.6 980.1,596.7 986.8,597.6 989.3,602.6 1015.1,600.1 1041.8,620.9M963.4,558.7 1013.4,550.9 1046.8,545 1084.3,537.5M1031.3,467.9 1031.4,472 1026.4,470.1 1021.4,468.9 1020.1,472.6 1017.6,478.9 1015.1,483.9 1011.4,487.6 1007.6,491.4 1005.1,499.6 1001.4,499.6 998.2,498.3 996.3,503.9 993.8,510.2 992,516.5 990.1,522.7 986.9,526.5 983.8,530.2 977.5,532.8 973.8,536.5 969.4,539 966.7,538.3 961.7,541.7 956.7,539.2 953.4,535M1047.4,492.6 1049,488.2 1050.9,484.4 1052.2,480.6 1050.3,478 1046.2,476 1040.5,474.2 1038.9,471.7 1037,470.4 1033.8,470.1 1031.3,467.9M968.8,446.3 974.4,468.2 996.3,466.3M996.3,466.3 997.6,478.9 1001.4,475.1 1006.4,471.4 1010.1,467.6 1015.1,467 1018.9,465.1 1021.4,463.8 1025.2,463.2 1028.3,463.8 1031.3,467.9M1070.9,453 1030,460.4 996.3,466.3M1070.9,453 1079.8,484.4 1091.3,483.1M1075.3,448.7 1070.9,453M978.4,400.4 979.7,404.3 1065.1,388.4 1070.1,390.9 1073.5,395.9 1076.8,400.1 1081,403.4 1081.9,404.5M1081.9,404.5 1080.5,410.9 1078.5,416.8 1081,423.4 1085.2,429.3 1089.3,435.1 1083.5,440.1 1080.7,444.4 1078.2,447.9 1076.9,448.4M1081.9,404.5 1100.2,409.3M1086.8,300.8 1089.3,310 1091.8,320 1093.5,328.4 1096,335 1098.5,343.4 1101,351.7 1102,358.8M1102,358.8 1102.6,371.3 1103.9,380.1M1103.9,380.1 1105.1,390.1 1107,400.8M1120.1,292.6 1121.7,301.8 1118.4,308.4 1115,315.1 1114.2,323.4 1113.4,333.4 1114.2,343.4 1115.1,354.8M1102,358.8 1115.1,354.8M1128.4,281.7 1133.4,293.4 1138.4,306.8 1143.4,321.8 1148.4,335.1M1115.1,354.8 1131.4,351.9 1141.5,349.4 1146.5,346M1143.7,371.1 1136.4,372.8M1136.4,372.8 1103.9,380.1M1136.4,372.8 1138.3,382.6 1139,387.4"/>
<path class="gs" fill="#FFFFE5" d="M212.4,714.4 219.9,717.4 229.9,721.2 242.4,722.4 254.9,722.4 264.4,723.7 281.1,812.4 287.3,811.1 291.1,816.1 299.8,822.4 304.8,817.4 308.6,811.9 313.6,817.4 321.1,824.9 329.8,832.3 339.8,836.1 347.3,838.6 348.6,844.8 342.3,848.6 336.1,852.3 329.8,848.6 319.8,839.8 312.3,832.3 304.8,826.1 297.3,823.6 289.8,818.6 282.4,816.1 272.4,816.1 264.9,818.6 259.9,814.9 254.9,812.4 251.1,817.4 246.1,813.6 241.1,807.4 234.9,811.1 228.6,819.9 224.9,827.3 219.9,834.8 214.9,842.3 209.9,848.6 202.4,854.8 194.9,857.3 187.4,859.8 179.9,863.6 172.4,866.6 162.4,870.1 160.4,869.1 164.9,865.8 174.9,859.8 184.9,857.3 189.9,852.3 197.4,846.1 202.4,839.8 206.2,833.6 204.9,829.8 198.7,832.3 193.7,829.8 187.4,831.1 182.4,827.3 183.7,819.9 177.4,817.4 172.4,812.4 167.4,806.1 166.2,799.9 171.2,794.9 174.9,789.9 179.9,787.4 187.4,784.9 192.4,779.9 189.9,774.9 183.7,776.1 177.4,772.4 171.2,769.9 168.7,764.9 166.2,762.4 172.4,758.6 179.9,756.1 187.4,758.6 193.7,757.4 189.9,752.4 184.9,748.6 179.9,742.4 177.4,734.9 182.4,731.2 189.9,724.9 197.4,721.2 204.9,718.7ZM218.7,844.8 224.9,838.6 229.9,836.1 228.6,842.3 223.6,847.3 218.7,849.8ZM146.2,777.4 151.2,776.1 156.2,781.1 158.7,784.9 153.7,783.6 148.7,781.1ZM158.7,812.9 164.9,811.9 167.4,816.1 162.4,817.4Z"/>
<path class="gs" fill="#FFFFE5" d="M853.6,742.4 852.3,732.4 849.8,726.2 908.5,719.9 913.7,726.2 977.4,722.4 978.7,728.7 981.2,724.9 981.2,716.2 986.2,714.9 991.1,716.2 992.4,724.9 994.9,737.4 997.4,749.9 1004.9,759.9 1014.9,772.4 1022.4,784.9 1032.4,799.9 1039.9,812.4 1044.9,827.3 1046.1,842.3 1043.6,854.8 1039.9,866.1 1034.9,862.3 1027.4,863.6 1022.4,861.1 1017.4,852.3 1009.9,844.8 1002.4,837.3 996.1,829.8 991.1,819.9 982.4,812.4 977.4,807.4 978.7,798.6 972.4,794.9 972.4,782.4 969.9,769.9 962.4,759.9 952.4,752.4 944.9,744.9 934.9,742.4 927.5,747.4 920,751.1 910,756.1 902.3,749.9 892.3,743.7 879.8,738.7 864.8,739.9Z"/>
<g class="gs" fill="#FFFFE5"><ellipse cx="63.51" cy="866.81" rx="3" ry="1.1"/><ellipse cx="67.51" cy="867.81" rx="2.2" ry="1.1"/><ellipse cx="82" cy="874.31" rx="3" ry="1.1"/><ellipse cx="86.99" cy="875.81" rx="2.2" ry="1.1"/><ellipse cx="91.99" cy="876.81" rx="3" ry="1.1"/><ellipse cx="99.49" cy="877.31" rx="2.2" ry="1.1"/><ellipse cx="104.98" cy="878.31" rx="3" ry="1.1"/><ellipse cx="111.98" cy="879.81" rx="2.2" ry="1.1"/><ellipse cx="117.47" cy="879.81" rx="3" ry="1.1"/><ellipse cx="126.22" cy="879.81" rx="2.2" ry="1.1"/><ellipse cx="131.21" cy="878.81" rx="3" ry="1.1"/><ellipse cx="136.96" cy="877.81" rx="3.2" ry="1.7"/><ellipse cx="141.95" cy="876.31" rx="3.2" ry="1.7"/><ellipse cx="146.95" cy="874.81" rx="3.2" ry="1.7"/><ellipse cx="151.95" cy="873.31" rx="3.2" ry="1.7"/><ellipse cx="156.94" cy="871.56" rx="3.2" ry="1.7"/></g>
<path fill="none" stroke="#c9c9c9" stroke-width="0.8" d="M306.08,819.85 312.33,827.34 319.82,832.34 326.07,839.84 332.31,844.83M311.08,816.1 317.32,823.6 324.82,829.84 332.31,836.09 341.05,841.08M314.82,828.59 321.07,836.09 328.56,843.58 334.81,848.58M319.82,824.85 323.57,832.34 331.06,837.34 337.31,843.58 343.55,844.83"/>
<path fill="none" stroke="#c6c6c6" stroke-width="0.9" stroke-linejoin="round" d="M989.28,727.51 990.95,735.02 993.45,741.69 992.62,748.37 995.12,755.04 997.12,757.54 995.45,752.54M1015.97,766.71 1020.14,769.72 1023.81,774.22 1020.48,774.72 1017.81,770.38M973.1,795.9 977.61,794.24 982.11,796.74 979.27,801.41 975.1,800.91M991.45,820.09 994.45,823.76 993.45,828.77 995.45,832.6M1023.14,860.13 1026.81,858.96 1028.82,861.79 1025.15,863.79 1023.14,861.79M1044.33,855.95 1041.83,861.79 1039.32,865.96M853.34,736.69 857.51,740.86 861.68,739.19 865.85,740.86M879.19,740.03 883.36,738.36 885.86,740.86M895.87,745.86 900.04,747.53 903.38,750.03"/>
</g>
<g id="labels">
<text class="l b" x="205" y="231.2" fill="#444">WA</text><text class="l" x="205" y="248.6" fill="#444">#7</text>
<text class="l b" x="174.5" y="322.2" fill="#fff">OR</text><text class="l" x="174.5" y="339.6" fill="#fff">#42</text>
<text class="l b" x="288" y="344.2" fill="#444">ID</text><text class="l" x="288" y="362.1" fill="#444">#20</text>
<text class="l b" x="402.5" y="267.2" fill="#444">MT</text><text class="l" x="402.5" y="284.6" fill="#444">#24</text>
<text class="l b" x="572" y="280.2" fill="#fff">ND</text><text class="l" x="572" y="297.6" fill="#fff">#26</text>
<text class="l b" x="570" y="360.2" fill="#444">SD</text><text class="l" x="570" y="377.6" fill="#444">#1</text>
<text class="l b" x="420.5" y="385.2" fill="#444">WY</text><text class="l" x="420.5" y="402.6" fill="#444">#1</text>
<text class="l b" x="681" y="309.2" fill="#fff">MN</text><text class="l" x="681" y="326.6" fill="#fff">#43</text>
<text class="l b" x="775" y="362.2" fill="#fff">WI</text><text class="l" x="775" y="377.6" fill="#fff">#37</text>
<text class="l b" x="703.75" y="422.95" fill="#fff">IA</text><text class="l" x="703.75" y="440.1" fill="#fff">#38</text>
<text class="l b" x="872.5" y="386.7" fill="#444">MI</text><text class="l" x="872.5" y="404.1" fill="#444">#12</text>
<text class="l b" x="221.25" y="466.2" fill="#444">NV</text><text class="l" x="221.25" y="484.1" fill="#444">#5</text>
<text class="l b" x="148.75" y="503.7" fill="#fff">CA</text><text class="l" x="148.75" y="522.1" fill="#fff">#49</text>
<text class="l b" x="325" y="483.7" fill="#444">UT</text><text class="l" x="325" y="501.6" fill="#444">#10</text>
<text class="l b" x="300.5" y="620.2" fill="#444">AZ</text><text class="l" x="300.5" y="637.1" fill="#444">#18</text>
<text class="l b" x="453.75" y="499.2" fill="#444">CO</text><text class="l" x="453.75" y="516.6" fill="#444">#14</text>
<text class="l b" x="576" y="441.7" fill="#fff">NE</text><text class="l" x="576" y="460.1" fill="#fff">#29</text>
<text class="l b" x="601" y="522.95" fill="#444">KS</text><text class="l" x="601" y="540.6" fill="#444">#22</text>
<text class="l b" x="431" y="622.95" fill="#fff">NM</text><text class="l" x="431" y="640.6" fill="#fff">#36</text>
<text class="l b" x="623" y="604.2" fill="#fff">OK</text><text class="l" x="623" y="622.1" fill="#fff">#30</text>
<text class="l b" x="792" y="479.7" fill="#444">IL</text><text class="l" x="792" y="497.1" fill="#444">#13</text>
<text class="l b" x="856.75" y="475.2" fill="#444">IN</text><text class="l" x="856.75" y="492.6" fill="#444">#15</text>
<text class="l b" x="729" y="529.2" fill="#444">MO</text><text class="l" x="729" y="546.6" fill="#444">#21</text>
<text class="l b" x="891" y="529.7" fill="#444">KY</text><text class="l" x="891" y="547.6" fill="#444">#17</text>
<text class="l b" x="862.5" y="589.2" fill="#444">TN</text><text class="l" x="862.5" y="606.6" fill="#444">#6</text>
<text class="l b" x="733" y="615.2" fill="#fff">AR</text><text class="l" x="733" y="632.6" fill="#fff">#39</text>
<text class="l b" x="924.5" y="459.95" fill="#fff">OH</text><text class="l" x="924.5" y="477.1" fill="#fff">#41</text>
<text class="l b" x="1017.5" y="426.2" fill="#444">PA</text><text class="l" x="1017.5" y="443.1" fill="#444">#19</text>
<text class="l b" x="971.75" y="499.2" fill="#fff">WV</text><text class="l" x="971.75" y="516.6" fill="#fff">#28</text>
<text class="l b" x="1027" y="513.7" fill="#fff">VA</text><text class="l" x="1027" y="531.1" fill="#fff">#32</text>
<text class="l b" x="1030.5" y="575.2" fill="#444">NC</text><text class="l" x="1030.5" y="592.6" fill="#444">#16</text>
<text class="l b" x="993.75" y="629.2" fill="#fff">SC</text><text class="l" x="993.75" y="646.1" fill="#fff">#33</text>
<text class="l b" x="939.5" y="661.7" fill="#fff">GA</text><text class="l" x="939.5" y="678.6" fill="#fff">#35</text>
<text class="l b" x="1004.5" y="793.7" fill="#444">FL</text><text class="l" x="1004.5" y="811.1" fill="#444">#1</text>
<text class="l b" x="733" y="713.7" fill="#fff">LA</text><text class="l" x="733" y="730.1" fill="#fff">#34</text>
<text class="l b" x="798" y="668.7" fill="#fff">MS</text><text class="l" x="798" y="686.6" fill="#fff">#25</text>
<text class="l b" x="863" y="663.7" fill="#fff">AL</text><text class="l" x="863" y="680.6" fill="#fff">#27</text>
<text class="l b" x="578.5" y="712.9" fill="#444">TX</text><text class="l" x="578.5" y="730.1" fill="#444">#7</text>
<text class="l b" x="408" y="834.7" fill="#555">HI</text><text class="l" x="408" y="852.6" fill="#555">#46</text>
<text class="l b" x="228" y="762.2" fill="#444">AK</text><text class="l" x="228" y="780.1" fill="#444">#1</text>
<text class="l b" x="1064.5" y="349.2" fill="#fff">NY</text><text class="l" x="1064.5" y="366.6" fill="#fff">#50</text>
<text class="l b" x="1160.5" y="254.7" fill="#444">ME</text><text class="l" x="1160.5" y="272.1" fill="#444">#23</text>
</g>
<g id="sw">
<rect x="962" y="215.5" width="46" height="46" fill="#006435"/><text class="r b" x="951.5" y="232.5">VT</text><text class="r" x="951.5" y="249.5">#40</text>
<rect x="1063" y="215" width="46" height="46" fill="#F8FCBE"/><text class="r b" x="1052" y="232">NH</text><text class="r" x="1052" y="249">#9</text>
<rect x="1193" y="435" width="46" height="46" fill="#E0F3A8"/><text class="r b" x="1182" y="456">MA</text><text class="r" x="1182" y="473">#11</text>
<rect x="1193" y="495" width="46" height="46" fill="#379E54"/><text class="r b" x="1182" y="516">RI</text><text class="r" x="1182" y="533">#31</text>
<rect x="1193" y="555" width="46" height="46" fill="#004529"/><text class="r b" x="1182" y="576">CT</text><text class="r" x="1182" y="593">#47</text>
<rect x="1193" y="615" width="46" height="46" fill="#004529"/><text class="r b" x="1182" y="636">NJ</text><text class="r" x="1182" y="653">#48</text>
<rect x="1193" y="675" width="46" height="46" fill="#006435"/><text class="r b" x="1182" y="696">DE</text><text class="r" x="1182" y="713">#44</text>
<rect x="1193" y="735" width="46" height="46" fill="#004529"/><text class="r b" x="1182" y="756">MD</text><text class="r" x="1182" y="773">#45</text>
<rect x="1193" y="795" width="46" height="46" fill="#004529"/><text class="r b" x="1182" y="816">DC</text><text class="r" x="1182" y="833">(#48)</text>
</g>
<g id="legend">
<text class="b" x="907" y="928.5" font-size="20" fill="#555" textLength="316" lengthAdjust="spacingAndGlyphs">Individual Tax Component Rankings</text>
<rect x="878.2" y="943.5" width="32.3" height="40.5" fill="#FFFFE5"/>
<rect x="914.4" y="943.5" width="32.3" height="40.5" fill="#F8FCBE"/>
<rect x="950.6" y="943.5" width="32.3" height="40.5" fill="#E0F3A8"/>
<rect x="986.8" y="943.5" width="32.3" height="40.5" fill="#BCE395"/>
<rect x="1023" y="943.5" width="32.3" height="40.5" fill="#90D083"/>
<rect x="1059.2" y="943.5" width="32.3" height="40.5" fill="#5FBA6C"/>
<rect x="1095.4" y="943.5" width="32.3" height="40.5" fill="#379E54"/>
<rect x="1131.6" y="943.5" width="32.3" height="40.5" fill="#1A7D40"/>
<rect x="1167.8" y="943.5" width="32.3" height="40.5" fill="#006435"/>
<rect x="1204" y="943.5" width="32.3" height="40.5" fill="#004529"/>
<text class="b" x="863.5" y="1010" font-size="20" fill="#555" textLength="54.5" lengthAdjust="spacingAndGlyphs">Better</text>
<text class="b" x="1189.7" y="1010" font-size="20" fill="#555" textLength="59" lengthAdjust="spacingAndGlyphs">Worse</text>
</g>
<g id="notes" font-size="17.5" fill="#595959">
<text x="33.5" y="972.6" textLength="718" lengthAdjust="spacingAndGlyphs">Note: A rank of 1 is best, 50 is worst. States without a corporate tax rank equally as 1. D.C.’s</text>
<text x="33.5" y="992.9" textLength="703" lengthAdjust="spacingAndGlyphs">score and rank do not affect other states. The report shows tax systems as of July 1, 2021</text>
<text x="33.5" y="1013.2" textLength="272.5" lengthAdjust="spacingAndGlyphs">(the beginning of Fiscal Year 2022).</text>
<text x="33.5" y="1039" textLength="485" lengthAdjust="spacingAndGlyphs">Source: Tax Foundation, 2022 <tspan font-style="italic">State Business Tax Climate Index</tspan>.</text>
</g>
<rect x="0" y="1060" width="1301" height="43.5" fill="#3B8FF3"/><rect x="0" y="1103.5" width="1301" height="1.5" fill="#E3EEFC"/>
<text x="34" y="1090.7" font-size="25" fill="#fff" textLength="204.5" lengthAdjust="spacingAndGlyphs">TAX FOUNDATION</text>
<text class="b" x="1099.6" y="1090" font-size="23" fill="#fff" textLength="166.5" lengthAdjust="spacingAndGlyphs">@TaxFoundation</text>
</svg></body></html>
